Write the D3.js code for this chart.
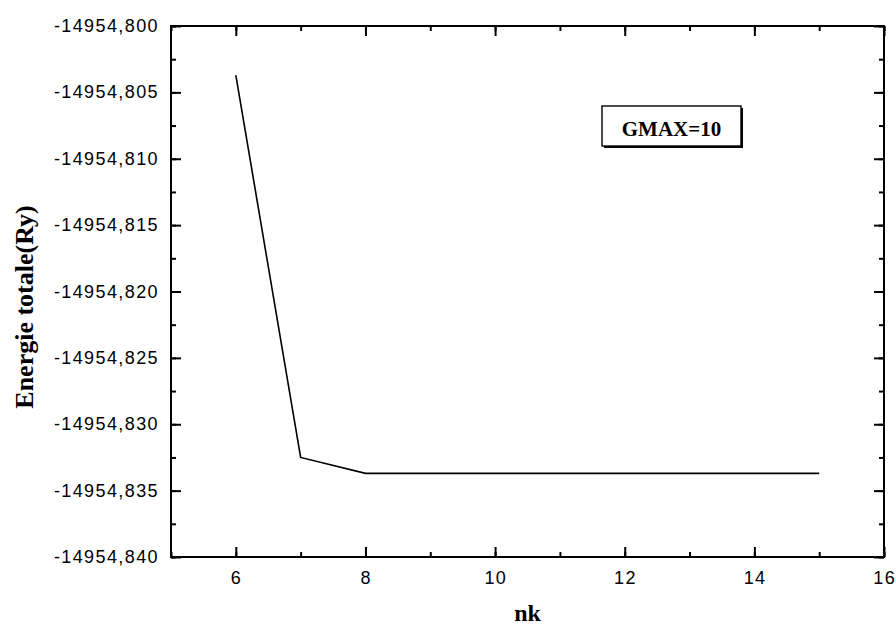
<!DOCTYPE html>
<html>
<head>
<meta charset="utf-8">
<script src="https://cdn.jsdelivr.net/npm/d3@7"></script>
<style>
  body { margin: 0; background: #fff; }
  svg { display: block; }
</style>
</head>
<body>
<div id="chart"></div>
<script>
var width = 896,
  height = 625;

// data
var nk = [6, 7, 8, 9, 10, 11, 12, 13, 14, 15];
var energy = [-14954.8037, -14954.8325, -14954.8337, -14954.8337, -14954.8337,
  -14954.8337, -14954.8337, -14954.8337, -14954.8337, -14954.8337];
var xTicks = [6, 8, 10, 12, 14, 16];
var yTicks = [-14954.840, -14954.835, -14954.830, -14954.825, -14954.820,
  -14954.815, -14954.810, -14954.805, -14954.800];
var legendText = "GMAX=10";

var margin = { left: 171, right: 12, top: 26, bottom: 68 };

var svg = d3.select("#chart")
  .append("svg")
  .attr("width", width)
  .attr("height", height);

var x = d3.scaleLinear()
  .domain([5, 16])
  .range([margin.left, width - margin.right]);

var y = d3.scaleLinear()
  .domain([-14954.840, -14954.800])
  .range([height - margin.bottom, margin.top]);

var fmt = function (d) {
  return d3.format(".3f")(d).replace(".", ",").replace("−", "-");
};

var minorX = d3.range(5, 16.01, 1);
var minorY = d3.range(0, 17).map(function (i) { return -14954.840 + i * 0.0025; });

function tickAxis(g, axis) {
  g.call(axis);
  g.select(".domain").remove();
  g.selectAll(".tick line").attr("stroke", "#000").attr("stroke-width", 2);
}

// minor ticks
svg.append("g").attr("transform", "translate(0," + y.range()[0] + ")")
  .call(tickAxis, d3.axisTop(x).tickValues(minorX).tickSize(5).tickFormat(""));
svg.append("g").attr("transform", "translate(0," + y.range()[1] + ")")
  .call(tickAxis, d3.axisBottom(x).tickValues(minorX).tickSize(5).tickFormat(""));
svg.append("g").attr("transform", "translate(" + x.range()[0] + ",0)")
  .call(tickAxis, d3.axisRight(y).tickValues(minorY).tickSize(5).tickFormat(""));
svg.append("g").attr("transform", "translate(" + x.range()[1] + ",0)")
  .call(tickAxis, d3.axisLeft(y).tickValues(minorY).tickSize(5).tickFormat(""));

// major ticks
svg.append("g").attr("transform", "translate(0," + y.range()[0] + ")")
  .call(tickAxis, d3.axisTop(x).tickValues(xTicks).tickSize(10).tickFormat(""));
svg.append("g").attr("transform", "translate(0," + y.range()[1] + ")")
  .call(tickAxis, d3.axisBottom(x).tickValues(xTicks).tickSize(10).tickFormat(""));
svg.append("g").attr("transform", "translate(" + x.range()[0] + ",0)")
  .call(tickAxis, d3.axisRight(y).tickValues(yTicks).tickSize(10).tickFormat(""));
svg.append("g").attr("transform", "translate(" + x.range()[1] + ",0)")
  .call(tickAxis, d3.axisLeft(y).tickValues(yTicks).tickSize(10).tickFormat(""));

// tick labels
svg.append("g")
  .selectAll("text")
  .data(xTicks)
  .enter().append("text")
  .attr("x", function (d) { return x(d) + 0.7; })
  .attr("y", y.range()[0] + 26.5)
  .attr("text-anchor", "middle")
  .style("font-family", "'Liberation Sans', Arial, sans-serif")
  .style("font-size", "18px")
  .style("letter-spacing", "1.4px")
  .text(function (d) { return d; });

svg.append("g")
  .selectAll("text")
  .data(yTicks)
  .enter().append("text")
  .attr("x", x.range()[0] - 12)
  .attr("y", function (d) { return y(d) + 6; })
  .attr("text-anchor", "end")
  .style("font-family", "'Liberation Sans', Arial, sans-serif")
  .style("font-size", "18px")
  .style("letter-spacing", "1.4px")
  .text(fmt);

// frame
svg.append("rect")
  .attr("x", x.range()[0])
  .attr("y", y.range()[1])
  .attr("width", x.range()[1] - x.range()[0])
  .attr("height", y.range()[0] - y.range()[1])
  .attr("fill", "none")
  .attr("stroke", "#000")
  .attr("stroke-width", 2);

// data line
var line = d3.line()
  .x(function (d, i) { return x(nk[i]); })
  .y(function (d) { return y(d); });

svg.append("path")
  .datum(energy)
  .attr("d", line)
  .attr("fill", "none")
  .attr("stroke", "#000")
  .attr("stroke-width", 1.6);

// axis titles
svg.append("text")
  .attr("transform", "translate(33,307) rotate(-90)")
  .attr("text-anchor", "middle")
  .style("font-family", "'Liberation Serif', 'Times New Roman', serif")
  .style("font-weight", "bold")
  .style("font-size", "26px")
  .text("Energie totale(Ry)");

svg.append("text")
  .attr("x", (x.range()[0] + x.range()[1]) / 2)
  .attr("y", 621)
  .attr("text-anchor", "middle")
  .style("font-family", "'Liberation Serif', 'Times New Roman', serif")
  .style("font-weight", "bold")
  .style("font-size", "24px")
  .text("nk");

// legend box
var legend = svg.append("g").attr("transform", "translate(602,106)");
legend.append("rect")
  .attr("x", 2).attr("y", 2)
  .attr("width", 139).attr("height", 40)
  .attr("fill", "#000");
legend.append("rect")
  .attr("width", 139).attr("height", 40)
  .attr("fill", "#fff")
  .attr("stroke", "#000")
  .attr("stroke-width", 1.4);
legend.append("text")
  .attr("x", 69.5)
  .attr("y", 30)
  .attr("text-anchor", "middle")
  .style("font-family", "'Liberation Serif', 'Times New Roman', serif")
  .style("font-weight", "bold")
  .style("font-size", "21px")
  .text(legendText);
</script>
</body>
</html>
